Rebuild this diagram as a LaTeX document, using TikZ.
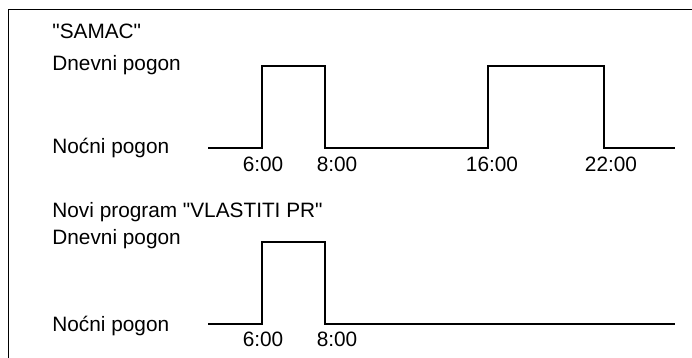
\documentclass[tikz,border=0pt]{standalone}
\usepackage{fontspec}
\setmainfont{Liberation Sans}
\usetikzlibrary{positioning}

\begin{document}
\begin{tikzpicture}[x=0.5pt, y=-0.5pt,
  every node/.style={font=\fontsize{10.4}{12}\selectfont, inner sep=0pt},
  lbl/.style={anchor=base west}, tick/.style={anchor=base},
  signal/.style={draw, line width=1pt, line join=miter}]
  \useasboundingbox (0,0) rectangle (692,358);
  \draw[line width=0.5pt] (692,10) -- (8,10) -- (8,358);
  % program SAMAC
  \node[lbl] (title1) at (52,39) {\textquotedbl SAMAC\textquotedbl};
  \node[lbl] (day1) at (52,71) {Dnevni pogon};
  \node[lbl] (night1) at (52,154) {Noćni pogon};
  \draw[signal] (208,148) -- (262,148) -- (262,66) -- (325,66) -- (325,148)
    -- (488,148) -- (488,66) -- (604,66) -- (604,148) -- (675,148);
  \node[tick] (t1a) at (263,172) {6:00};
  \node[tick] (t1b) at (337,172) {8:00};
  \node[tick] (t1c) at (492,172) {16:00};
  \node[tick] (t1d) at (611,172) {22:00};
  % program VLASTITI PR
  \node[lbl] (title2) at (52,218) {Novi program \textquotedbl VLASTITI PR\textquotedbl};
  \node[lbl] (day2) at (52,245) {Dnevni pogon};
  \node[lbl] (night2) at (52,331) {Noćni pogon};
  \draw[signal] (208,324) -- (262,324) -- (262,242) -- (325,242) -- (325,324)
    -- (675,324);
  \node[tick] (t2a) at (263,347) {6:00};
  \node[tick] (t2b) at (337,347) {8:00};
\end{tikzpicture}
\end{document}
